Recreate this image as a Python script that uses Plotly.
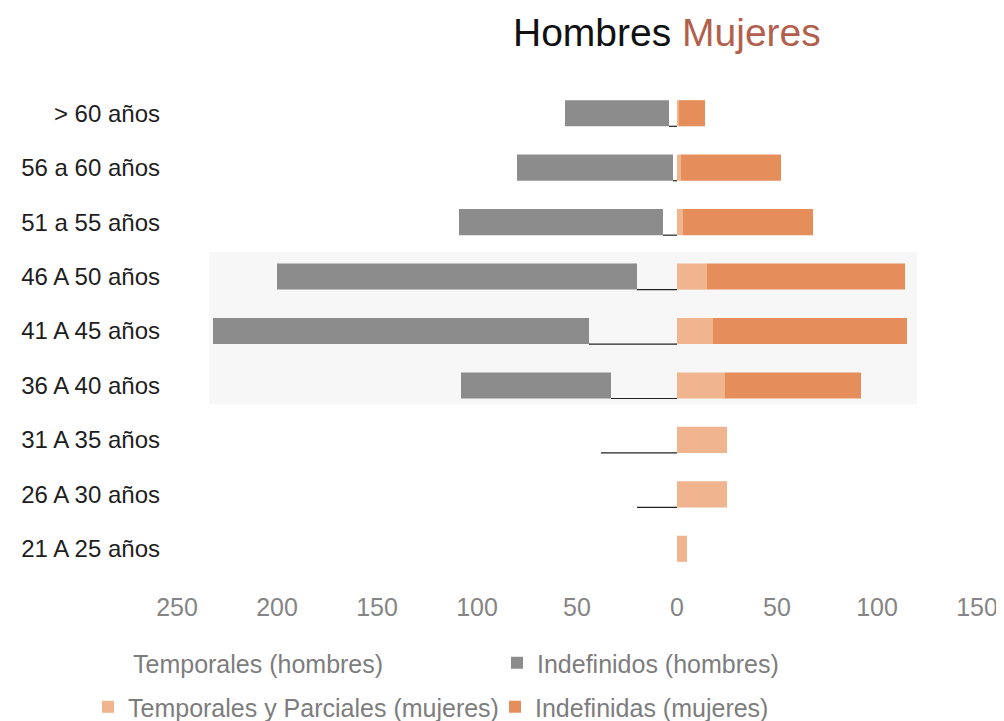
import plotly.graph_objects as go

# age groups, top to bottom
grupos = ['> 60 años', '56 a 60 años', '51 a 55 años', '46 A 50 años', '41 A 45 años',
          '36 A 40 años', '31 A 35 años', '26 A 30 años', '21 A 25 años']

temporales_h = [4, 2, 7, 20, 44, 33, 38, 20, 0]
indefinidos_h = [52, 78, 102, 180, 188, 75, 0, 0, 0]
temporales_m = [1, 2, 3, 15, 18, 24, 25, 25, 5]
indefinidas_m = [13, 50, 65, 99, 97, 68, 0, 0, 0]

tick_vals = [-250, -200, -150, -100, -50, 0, 50, 100, 150]
tick_text = [str(abs(v)) for v in tick_vals]

GRIS = '#8c8c8c'
MELOCOTON = '#f0b48e'
NARANJA = '#e68d5c'
BAR_W = 0.48
W, H = 1004, 721
OFF = 8  # page body margin

fig = go.Figure()

fig.add_trace(go.Bar(y=grupos, x=[-v for v in temporales_h], orientation='h',
                     name='Temporales (hombres)', width=BAR_W, legend='legend',
                     showlegend=True,
                     marker=dict(color='rgba(255,255,255,0)', line=dict(width=0))))
fig.add_trace(go.Bar(y=grupos, x=[-v for v in indefinidos_h], orientation='h',
                     name='Indefinidos (hombres)', width=BAR_W, legend='legend2',
                     showlegend=True,
                     marker=dict(color=GRIS, line=dict(width=0))))
fig.add_trace(go.Bar(y=grupos, x=temporales_m, orientation='h',
                     name='Temporales y Parciales (mujeres)', width=BAR_W, legend='legend3',
                     showlegend=True,
                     marker=dict(color=MELOCOTON, line=dict(width=0))))
fig.add_trace(go.Bar(y=grupos, x=indefinidas_m, orientation='h',
                     name='Indefinidas (mujeres)', width=BAR_W, legend='legend4',
                     showlegend=True,
                     marker=dict(color=NARANJA, line=dict(width=0))))

# thin dark line along the bottom of the (blank) men's temporary bars
shapes = []
for i, v in enumerate(temporales_h):
    if v > 0:
        shapes.append(dict(type='line', xref='x', yref='y',
                           x0=-v, x1=0, y0=i + BAR_W / 2, y1=i + BAR_W / 2,
                           line=dict(color='#222222', width=1.2), layer='above'))
# faint scanned band behind the middle rows
shapes.append(dict(type='rect', xref='paper', yref='y', x0=0.04, x1=0.925,
                   y0=2.55, y1=5.35, fillcolor='#f7f7f7', line=dict(width=0),
                   layer='below'))


def leyenda(px, py):
    return dict(orientation='h', xref='container', yref='container',
                x=(px - OFF) / W, y=1 - (py - OFF) / H,
                xanchor='left', yanchor='middle', itemwidth=30,
                font=dict(size=25, color='#7d7d7d'), bgcolor='rgba(0,0,0,0)')


fig.update_layout(
    barmode='relative',
    width=W, height=H,
    showlegend=True,
    margin=dict(l=169, r=35, t=78, b=153, autoexpand=False),
    paper_bgcolor='white', plot_bgcolor='white',
    font=dict(family='Liberation Sans, Arial, sans-serif', color='#222222'),
    shapes=shapes,
    xaxis=dict(range=[-250, 150], tickvals=tick_vals, ticktext=tick_text,
               showgrid=False, zeroline=False, showline=False, ticks='',
               automargin=False, ticklabelstandoff=14,
               tickfont=dict(size=25, color='#858585')),
    yaxis=dict(categoryorder='array', categoryarray=grupos, autorange='reversed',
               showgrid=False, zeroline=False, showline=False, ticks='',
               automargin=False, ticklabelstandoff=16,
               tickfont=dict(size=24, color='#1e1e1e')),
    legend=leyenda(93, 663),
    legend2=leyenda(497, 663),
    legend3=leyenda(88, 707),
    legend4=leyenda(495, 707),
    annotations=[dict(text="Hombres <span style='color:#b35f4e'>Mujeres</span>",
                      xref='paper', yref='paper', x=0.6125, y=(568 - 24) / 490,
                      yanchor='middle', showarrow=False,
                      font=dict(size=39, color='#111111'))],
)

fig.write_html("out.html")
